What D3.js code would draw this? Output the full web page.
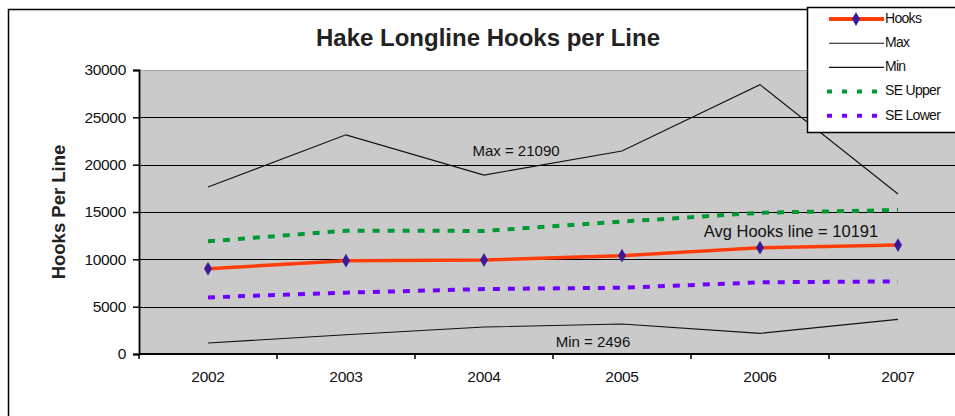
<!DOCTYPE html>
<html>
<head>
<meta charset="utf-8">
<script src="https://cdn.jsdelivr.net/npm/d3@7"></script>
<style>
	body { margin: 0; background: #fff; }
	svg { display: block; font-family: "Liberation Sans", Arial, sans-serif; }
</style>
</head>
<body>
<div id="chart"></div>
<script>

var years      = ["2002", "2003", "2004", "2005", "2006", "2007"];
var hooks      = [9010, 9860, 9930, 10390, 11230, 11510];
var maxHooks   = [17650, 23150, 18900, 21450, 28450, 16900];
var minHooks   = [1160, 2040, 2850, 3170, 2180, 3660];
var seUpper    = [11900, 13030, 13000, 13980, 14920, 15210];
var seLower    = [5980, 6480, 6860, 7000, 7570, 7670];
var yTicks     = [0, 5000, 10000, 15000, 20000, 25000, 30000];
var notes      = [
	{ text: "Max = 21090",            year: "2004", dx: 32,  value: 21300, size: 15 },
	{ text: "Avg Hooks line = 10191", year: "2006", dx: 31,  value: 12850, size: 16.5 },
	{ text: "Min = 2496",             year: "2005", dx: -29, value: 1150,  size: 15 }
];
var legendItems = ["Hooks", "Max", "Min", "SE Upper", "SE Lower"];

var width = 955, height = 416;
var plot = { left: 139, right: 967, top: 70, bottom: 354 };

var svg = d3.select("#chart")
	.append("svg")
	.attr("width", width)
	.attr("height", height);

// outer chart frame
svg.append("rect")
	.attr("x", 8.5)
	.attr("y", 9.5)
	.attr("width", 1000)
	.attr("height", 500)
	.attr("fill", "#fff")
	.attr("stroke", "#000")
	.attr("stroke-width", 1.5);

var x = d3.scaleBand()
	.domain(years)
	.range([plot.left, plot.right]);

var y = d3.scaleLinear()
	.domain([0, 30000])
	.range([plot.bottom, plot.top]);

var cx = function(d, i) { return x(years[i]) + x.bandwidth() / 2; };

// plot area
svg.append("rect")
	.attr("x", plot.left)
	.attr("y", plot.top)
	.attr("width", plot.right - plot.left)
	.attr("height", plot.bottom - plot.top)
	.attr("fill", "#cacaca");

svg.append("line")
	.attr("x1", plot.left).attr("x2", plot.right)
	.attr("y1", plot.top + 0.5).attr("y2", plot.top + 0.5)
	.attr("stroke", "#a8a8a8");

// gridlines
svg.append("g")
	.selectAll("line")
	.data(yTicks.slice(1, -1))
	.join("line")
	.attr("x1", plot.left)
	.attr("x2", plot.right)
	.attr("y1", function(d) { return Math.round(y(d)) + 0.5; })
	.attr("y2", function(d) { return Math.round(y(d)) + 0.5; })
	.attr("stroke", "#000")
	.attr("stroke-width", 1.2);

// axes
var yAxis = svg.append("g")
	.attr("transform", "translate(" + plot.left + ",0)")
	.call(d3.axisLeft(y).tickValues(yTicks).tickSize(6).tickPadding(7).tickFormat(d3.format("d")));

var xAxis = svg.append("g")
	.attr("transform", "translate(0," + plot.bottom + ")")
	.call(d3.axisBottom(x).tickSize(0).tickPadding(17));

xAxis.selectAll(".tick")
	.append("line")
	.attr("x1", -x.bandwidth() / 2)
	.attr("x2", -x.bandwidth() / 2)
	.attr("y1", 0)
	.attr("y2", 5)
	.attr("stroke", "#000")
	.attr("stroke-width", 1.5);

[yAxis, xAxis].forEach(function(a) {
	a.select(".domain").attr("stroke", "#000").attr("stroke-width", 1.8);
	a.selectAll(".tick line").attr("stroke-width", 1.5);
	a.selectAll("text")
		.attr("font-size", 15.5)
		.attr("letter-spacing", -0.3)
		.attr("fill", "#111")
		.attr("font-family", "Liberation Sans, Arial, sans-serif");
});
xAxis.select(".domain").attr("d", "M" + plot.left + ",0H" + plot.right);

// series
var line = d3.line()
	.x(cx)
	.y(function(d) { return y(d); });

var series = [
	{ values: maxHooks, color: "#111",    width: 1.1, dash: null },
	{ values: minHooks, color: "#111",    width: 1.1, dash: null },
	{ values: seUpper,  color: "#009933", width: 4,   dash: "7,8" },
	{ values: seLower,  color: "#6f00ff", width: 4,   dash: "7,8" },
	{ values: hooks,    color: "#ff3d0a", width: 3.5, dash: null }
];

svg.append("g")
	.selectAll("path")
	.data(series)
	.join("path")
	.attr("d", function(s) { return line(s.values); })
	.attr("fill", "none")
	.attr("stroke", function(s) { return s.color; })
	.attr("stroke-width", function(s) { return s.width; })
	.attr("stroke-dasharray", function(s) { return s.dash; });

var diamond = d3.symbol().type(d3.symbolDiamond).size(55);

svg.append("g")
	.selectAll("path")
	.data(hooks)
	.join("path")
	.attr("d", diamond)
	.attr("transform", function(d, i) { return "translate(" + cx(d, i) + "," + y(d) + ")"; })
	.attr("fill", "#3a1a9a");

// annotations
svg.append("g")
	.selectAll("text")
	.data(notes)
	.join("text")
	.attr("x", function(d) { return x(d.year) + x.bandwidth() / 2 + d.dx; })
	.attr("y", function(d) { return y(d.value); })
	.attr("text-anchor", "middle")
	.attr("dominant-baseline", "middle")
	.attr("font-size", function(d) { return d.size; })
	.attr("fill", "#111")
	.text(function(d) { return d.text; });

// title
svg.append("text")
	.attr("x", 488)
	.attr("y", 46)
	.attr("text-anchor", "middle")
	.attr("font-size", 24)
	.attr("font-weight", "bold")
	.attr("fill", "#222")
	.text("Hake Longline Hooks per Line");

// y axis title
svg.append("text")
	.attr("transform", "translate(65,212) rotate(-90)")
	.attr("text-anchor", "middle")
	.attr("font-size", 18.5)
	.attr("font-weight", "bold")
	.attr("fill", "#222")
	.text("Hooks Per Line");

// legend
var legend = svg.append("g");

legend.append("rect")
	.attr("x", 807.5)
	.attr("y", 7.5)
	.attr("width", 200)
	.attr("height", 125)
	.attr("fill", "#fff")
	.attr("stroke", "#000")
	.attr("stroke-width", 1.5);

var rows = legend.selectAll("g.row")
	.data(legendItems)
	.join("g")
	.attr("class", "row")
	.attr("transform", function(d, i) { return "translate(0," + (19 + i * 24.2) + ")"; });

rows.append("line")
	.attr("x1", function(d, i) { return i >= 3 ? 827 : 829; })
	.attr("x2", 884)
	.attr("y1", 0)
	.attr("y2", 0)
	.attr("stroke", function(d, i) { return series[(i + 4) % 5].color; })
	.attr("stroke-width", function(d, i) { return i == 0 ? 4 : series[(i + 4) % 5].width; })
	.attr("stroke-dasharray", function(d, i) { return i >= 3 ? "5,10" : null; });

rows.filter(function(d, i) { return i == 0; })
	.append("path")
	.attr("d", diamond)
	.attr("transform", "translate(856,0)")
	.attr("fill", "#3a1a9a");

rows.append("text")
	.attr("x", 885)
	.attr("y", 0)
	.attr("dominant-baseline", "middle")
	.attr("font-size", 14)
	.attr("letter-spacing", -0.7)
	.attr("fill", "#111")
	.text(function(d) { return d; });

</script>
</body>
</html>
